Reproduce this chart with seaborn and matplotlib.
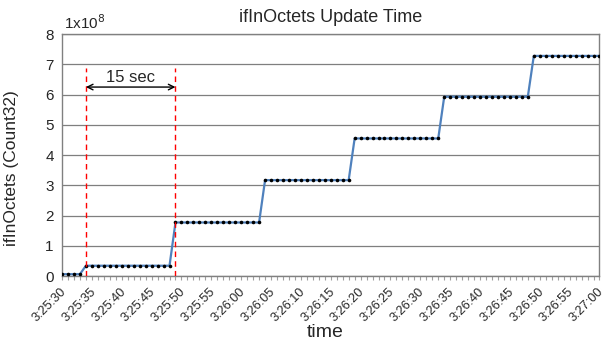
import matplotlib
matplotlib.use("Agg")
import matplotlib.pyplot as plt
import matplotlib.transforms as mtransforms
import seaborn as sns
import pandas as pd

# ---- data (values in units of 1e8) ----
values_1e8 = [
    0.06, 0.06, 0.06, 0.06,
    0.34, 0.34, 0.34, 0.34, 0.34, 0.34, 0.34, 0.34, 0.34, 0.34, 0.34, 0.34, 0.34, 0.34, 0.34,
    1.77, 1.77, 1.77, 1.77, 1.77, 1.77, 1.77, 1.77, 1.77, 1.77, 1.77, 1.77, 1.77, 1.77, 1.77,
    3.17, 3.17, 3.17, 3.17, 3.17, 3.17, 3.17, 3.17, 3.17, 3.17, 3.17, 3.17, 3.17, 3.17, 3.17,
    4.55, 4.55, 4.55, 4.55, 4.55, 4.55, 4.55, 4.55, 4.55, 4.55, 4.55, 4.55, 4.55, 4.55, 4.55,
    5.93, 5.93, 5.93, 5.93, 5.93, 5.93, 5.93, 5.93, 5.93, 5.93, 5.93, 5.93, 5.93, 5.93, 5.93,
    7.28, 7.28, 7.28, 7.28, 7.28, 7.28, 7.28, 7.28, 7.28, 7.28, 7.28, 7.28,
]
seconds = list(range(len(values_1e8)))  # one sample per second from 3:25:30
tick_labels = ["3:25:30", "3:25:35", "3:25:40", "3:25:45", "3:25:50", "3:25:55",
               "3:26:00", "3:26:05", "3:26:10", "3:26:15", "3:26:20", "3:26:25",
               "3:26:30", "3:26:35", "3:26:40", "3:26:45", "3:26:50", "3:26:55",
               "3:27:00"]
tick_secs = [0, 5, 10, 15, 20, 25, 30, 35, 40, 45, 50, 55, 60, 65, 70, 75, 80, 85, 90]
marker_secs = [4, 19]        # red dashed markers
marker_top = 6.88
arrow_level = 6.25
arrow_text = "15 sec"

df = pd.DataFrame({"sec": seconds, "val": values_1e8})

sns.set_style("white")
plt.rcParams["font.family"] = ["Liberation Sans", "DejaVu Sans"]

fig = plt.figure(figsize=(6.08, 3.45), dpi=100)
ax = fig.add_axes([0.102, 0.2, 0.884, 0.701])

sns.lineplot(data=df, x="sec", y="val", ax=ax, color="#4F81BD", linewidth=1.6,
             marker="o", markersize=2.6, markerfacecolor="black",
             markeredgecolor="black", markeredgewidth=0, zorder=3)

ax.set_xlim(0, 90)
ax.set_ylim(0, 8)
ax.set_yticks(range(0, 9))
ax.set_yticklabels([str(i) for i in range(0, 9)], fontsize=11)
ax.yaxis.grid(True, color="#7f7f7f", linewidth=0.9)
ax.xaxis.grid(False)
ax.tick_params(axis="y", length=0, pad=6)

ax.set_xticks(tick_secs)
ax.set_xticklabels(tick_labels, rotation=45, ha="right", rotation_mode="anchor",
                   fontsize=9.2)
ax.set_xticks(seconds, minor=True)
ax.tick_params(axis="x", which="both", direction="out", length=3, width=0.8,
               color="#a0a0a0", bottom=True, pad=4)
shift = mtransforms.ScaledTranslation(-2 / 100, 0, fig.dpi_scale_trans)
for lab in ax.get_xticklabels():
    lab.set_transform(lab.get_transform() + shift)

for s in ax.spines.values():
    s.set_color("#808080")
    s.set_linewidth(1.0)

for xs in marker_secs:
    ax.plot([xs, xs], [0, marker_top], color="red", linestyle=(0, (4, 3)),
            linewidth=1.0, zorder=4)

ax.annotate("", xy=(marker_secs[0], arrow_level), xytext=(marker_secs[1], arrow_level),
            arrowprops=dict(arrowstyle="<->", color="black", lw=1.0,
                            shrinkA=0, shrinkB=0), zorder=5)
ax.text((marker_secs[0] + marker_secs[1]) / 2, arrow_level + 0.08, arrow_text,
        ha="center", va="bottom", fontsize=12)

ax.text(0.3, 8.06, r"1x10$^{8}$", ha="left", va="bottom", fontsize=11,
        transform=ax.transData)

ax.set_title("ifInOctets Update Time", fontsize=13, pad=9)
ax.set_xlabel("time", fontsize=14)
ax.set_ylabel("ifInOctets (Count32)", fontsize=12.5)
ax.xaxis.set_label_coords(0.49, -0.2)
ax.yaxis.set_label_coords(-0.08, 0.445)

fig.savefig("out.png", dpi=100, facecolor="white")
